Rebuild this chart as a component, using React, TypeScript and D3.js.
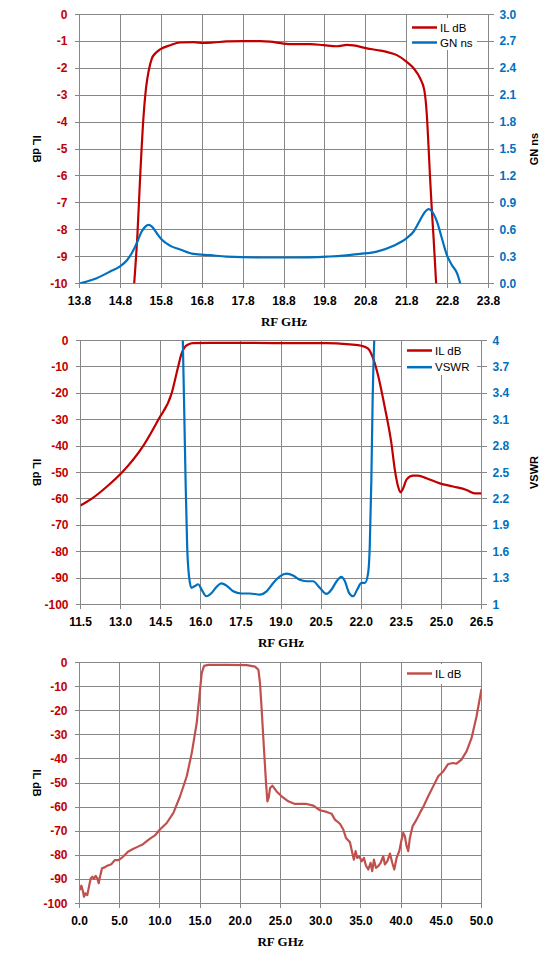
import { useEffect, useRef } from "react";
import * as d3 from "d3";

const RED = "#c00000";
const BLUE = "#0070c0";
const ROSE = "#c0504d";
const GRID = "#878787";

// --- top panel: passband IL and group delay ---
const pbFreq = [15.137, 15.218, 15.283, 15.365, 15.43, 15.487, 15.57, 15.65, 15.77, 16.02, 16.26, 16.59, 16.83, 17.08, 17.4, 17.81, 18.22, 18.46, 18.79, 19.03, 19.44, 19.77, 20.09, 20.34, 20.5, 20.83, 21.07, 21.31, 21.56, 21.8, 21.97, 22.13, 22.23, 22.29, 22.33, 22.37, 22.41, 22.46, 22.52];
const pbIL = [-10.0, -8.13, -6.03, -3.8, -2.69, -2.13, -1.63, -1.45, -1.3, -1.14, -1.04, -1.03, -1.06, -1.04, -1.0, -0.99, -0.99, -1.01, -1.08, -1.1, -1.1, -1.14, -1.18, -1.13, -1.15, -1.26, -1.32, -1.39, -1.51, -1.76, -2.0, -2.38, -2.81, -3.68, -4.79, -6.03, -7.14, -8.38, -10.0];
const gnFreq = [13.8, 13.98, 14.22, 14.55, 14.79, 14.96, 15.08, 15.2, 15.32, 15.41, 15.49, 15.57, 15.69, 15.81, 16.02, 16.26, 16.59, 16.99, 17.4, 18.22, 19.03, 19.85, 20.25, 20.66, 21.07, 21.48, 21.8, 21.97, 22.13, 22.25, 22.33, 22.41, 22.54, 22.66, 22.78, 22.9, 23.03, 23.11];
const gnNs = [0.0, 0.022, 0.059, 0.134, 0.19, 0.26, 0.34, 0.45, 0.58, 0.635, 0.654, 0.635, 0.56, 0.49, 0.42, 0.38, 0.33, 0.316, 0.3, 0.29, 0.29, 0.3, 0.31, 0.33, 0.356, 0.42, 0.505, 0.58, 0.71, 0.8, 0.83, 0.81, 0.69, 0.505, 0.32, 0.21, 0.115, 0.0];
const pbXTicks = [13.8, 14.8, 15.8, 16.8, 17.8, 18.8, 19.8, 20.8, 21.8, 22.8, 23.8];
const pbYTicks = [0, -1, -2, -3, -4, -5, -6, -7, -8, -9, -10];
const gnTicks = [0, 0.3, 0.6, 0.9, 1.2, 1.5, 1.8, 2.1, 2.4, 2.7, 3.0];

// --- middle panel: IL and VSWR ---
const midFreq = [11.5, 11.91, 12.48, 13.05, 13.84, 14.41, 14.91, 15.15, 15.28, 15.4, 15.53, 15.71, 16.34, 17.58, 19.45, 20.7, 21.57, 22.01, 22.26, 22.45, 22.63, 22.88, 23.13, 23.26, 23.38, 23.47, 23.57, 23.7, 23.94, 24.13, 24.44, 24.94, 25.44, 25.94, 26.25, 26.5];
const midIL = [-62.5, -60.0, -55.4, -50.0, -40.0, -30.0, -20.0, -10.0, -5.0, -2.5, -1.5, -1.0, -0.9, -0.9, -1.0, -1.0, -1.5, -2.0, -3.1, -6.9, -13.2, -25.2, -39.0, -49.1, -55.3, -57.5, -56.0, -52.6, -51.2, -51.2, -52.2, -54.1, -55.3, -56.6, -57.9, -57.9];
const vswrFreq = [15.32, 15.37, 15.43, 15.49, 15.56, 15.65, 15.78, 15.9, 16.03, 16.21, 16.4, 16.59, 16.77, 16.96, 17.21, 17.52, 17.83, 18.21, 18.46, 18.71, 18.96, 19.21, 19.45, 19.7, 19.95, 20.2, 20.45, 20.7, 20.89, 21.08, 21.26, 21.39, 21.55, 21.7, 21.85, 22.01, 22.14, 22.26, 22.32, 22.38, 22.43, 22.5];
const vswr = [4.11, 3.36, 2.42, 1.66, 1.32, 1.19, 1.21, 1.23, 1.17, 1.094, 1.13, 1.2, 1.24, 1.215, 1.15, 1.125, 1.125, 1.113, 1.15, 1.245, 1.32, 1.35, 1.33, 1.28, 1.264, 1.264, 1.19, 1.12, 1.17, 1.264, 1.313, 1.264, 1.13, 1.094, 1.17, 1.245, 1.245, 1.36, 1.66, 2.42, 3.36, 4.11];
const midXTicks = [11.5, 13.0, 14.5, 16.0, 17.5, 19.0, 20.5, 22.0, 23.5, 25.0, 26.5];
const dbTicks = [0, -10, -20, -30, -40, -50, -60, -70, -80, -90, -100];
const vswrTicks = [1, 1.3, 1.6, 1.9, 2.2, 2.5, 2.8, 3.1, 3.4, 3.7, 4];

// --- bottom panel: wideband IL ---
const wideFreq = [0.02, 0.23, 0.44, 0.56, 0.72, 0.97, 1.18, 1.39, 1.6, 1.8, 2.01, 2.22, 2.39, 2.55, 2.8, 3.13, 3.46, 3.96, 4.38, 4.88, 5.41, 6.03, 6.65, 7.28, 7.9, 8.73, 9.43, 10.0, 10.85, 11.68, 12.51, 13.34, 13.96, 14.58, 14.91, 15.2, 15.49, 16.03, 18.31, 20.8, 21.83, 22.25, 22.45, 22.66, 22.95, 23.2, 23.37, 23.53, 23.7, 23.99, 24.52, 25.14, 25.97, 26.8, 28.25, 29.08, 29.91, 30.74, 31.36, 31.77, 32.39, 32.81, 33.14, 33.64, 33.93, 34.13, 34.34, 34.55, 34.8, 35.09, 35.38, 35.63, 35.92, 36.2, 36.41, 36.62, 36.87, 37.16, 37.45, 37.78, 37.99, 38.28, 38.61, 38.9, 39.15, 39.44, 39.77, 40.06, 40.27, 40.47, 40.68, 40.89, 41.09, 41.42, 41.92, 42.34, 42.83, 43.37, 43.99, 44.62, 45.24, 45.86, 46.48, 46.89, 47.51, 48.14, 48.76, 49.38, 50.0];
const wideIL = [-94.4, -92.6, -95.1, -97.2, -95.8, -96.5, -93.0, -89.6, -88.9, -89.8, -88.5, -89.6, -91.6, -88.9, -85.4, -85.0, -84.3, -83.7, -82.0, -82.0, -80.6, -78.5, -77.4, -76.4, -75.4, -73.2, -71.6, -69.3, -66.6, -62.4, -55.5, -47.2, -37.6, -25.1, -14.1, -4.4, -1.4, -1.0, -1.0, -1.1, -1.7, -3.0, -8.6, -19.6, -36.2, -50.0, -57.6, -56.2, -52.1, -51.1, -53.5, -55.5, -57.6, -58.7, -58.7, -59.4, -61.3, -62.0, -62.8, -65.2, -66.9, -69.3, -72.8, -74.6, -79.0, -81.8, -78.3, -81.1, -80.4, -82.5, -81.1, -84.3, -85.9, -83.1, -86.6, -81.8, -85.2, -84.5, -83.1, -80.4, -83.8, -82.5, -79.3, -83.1, -85.9, -81.1, -78.3, -73.5, -70.7, -72.1, -76.2, -78.3, -72.8, -68.0, -65.2, -62.4, -59.4, -55.5, -51.4, -47.2, -45.2, -42.1, -41.7, -42.0, -40.3, -36.9, -31.4, -22.4, -11.0];
const wideXTicks = [0, 5, 10, 15, 20, 25, 30, 35, 40, 45, 50];

const TICK_FONT = "'Liberation Sans', Arial, sans-serif";
const TITLE_FONT = "'Liberation Serif', 'Times New Roman', serif";

type Series = { x: number[]; y: number[]; color: string; right?: boolean; smooth?: boolean };
type Axis = { domain: [number, number]; ticks: number[]; fmt: (v: number) => string; title: string; color: string };
type Panel = {
  id: string;
  left: number; top: number; right: number; bottom: number;
  xDomain: [number, number]; xTicks: number[]; xFmt: (v: number) => string;
  yLeft: Axis; yRight?: Axis;
  series: Series[];
  legend: { label: string; color: string }[];
  legendBox: [number, number, number, number];
  legendRow: number;
};

function drawPanel(svg: d3.Selection<SVGSVGElement, unknown, null, undefined>, p: Panel) {
  const x = d3.scaleLinear().domain(p.xDomain).range([p.left, p.right]);
  const yL = d3.scaleLinear().domain(p.yLeft.domain).range([p.bottom, p.top]);
  const yR = p.yRight ? d3.scaleLinear().domain(p.yRight.domain).range([p.bottom, p.top]) : yL;
  const g = svg.append("g");

  g.append("clipPath").attr("id", p.id).append("rect")
    .attr("x", p.left).attr("y", p.top).attr("width", p.right - p.left).attr("height", p.bottom - p.top);

  // grid
  p.xTicks.forEach((t) => {
    g.append("line").attr("x1", x(t)).attr("x2", x(t)).attr("y1", p.top).attr("y2", p.bottom + 4)
      .attr("stroke", GRID).attr("shape-rendering", "crispEdges");
  });
  p.yLeft.ticks.forEach((t) => {
    g.append("line").attr("x1", p.left - 5).attr("x2", p.right).attr("y1", yL(t)).attr("y2", yL(t))
      .attr("stroke", GRID).attr("shape-rendering", "crispEdges");
  });
  if (p.yRight) {
    p.yRight.ticks.forEach((t) => {
      g.append("line").attr("x1", p.right).attr("x2", p.right + 5).attr("y1", yR(t)).attr("y2", yR(t))
        .attr("stroke", GRID).attr("shape-rendering", "crispEdges");
    });
  }

  // tick labels
  const lbl = (sel: d3.Selection<SVGTextElement, unknown, null, undefined>) =>
    sel.attr("font-family", TICK_FONT).attr("font-weight", "bold").attr("font-size", 12);
  p.xTicks.forEach((t) => {
    lbl(g.append("text")).attr("x", x(t)).attr("y", p.bottom + 17).attr("text-anchor", "middle")
      .attr("dominant-baseline", "central").attr("fill", "#000").text(p.xFmt(t));
  });
  p.yLeft.ticks.forEach((t) => {
    lbl(g.append("text")).attr("x", p.left - 12).attr("y", yL(t)).attr("text-anchor", "end")
      .attr("dominant-baseline", "central").attr("fill", p.yLeft.color).text(p.yLeft.fmt(t));
  });
  if (p.yRight) {
    const ar = p.yRight;
    ar.ticks.forEach((t) => {
      lbl(g.append("text")).attr("x", p.right + 11).attr("y", yR(t)).attr("text-anchor", "start")
        .attr("dominant-baseline", "central").attr("fill", ar.color).text(ar.fmt(t));
    });
  }

  // axis titles
  const midY = (p.top + p.bottom) / 2;
  g.append("text").attr("transform", `translate(37,${midY}) rotate(90)`).attr("text-anchor", "middle")
    .attr("dominant-baseline", "central").attr("font-family", TICK_FONT).attr("font-weight", "bold")
    .attr("font-size", 11).text(p.yLeft.title);
  if (p.yRight) {
    g.append("text").attr("transform", `translate(534,${midY}) rotate(-90)`).attr("text-anchor", "middle")
      .attr("dominant-baseline", "central").attr("font-family", TICK_FONT).attr("font-weight", "bold")
      .attr("font-size", 11).text(p.yRight.title);
  }
  g.append("text").attr("x", (p.left + p.right) / 2).attr("y", p.bottom + 38).attr("text-anchor", "middle")
    .attr("dominant-baseline", "central").attr("font-family", TITLE_FONT).attr("font-weight", "bold")
    .attr("font-size", 13).text("RF GHz");

  // series
  p.series.forEach((s) => {
    const ys = s.right ? yR : yL;
    const line = d3.line<number>()
      .x((_, i) => x(s.x[i]))
      .y((v) => ys(v))
      .curve(s.smooth ? d3.curveMonotoneX : d3.curveLinear);
    g.append("path").attr("d", line(s.y)).attr("fill", "none").attr("stroke", s.color)
      .attr("stroke-width", 2.2).attr("stroke-linejoin", "round").attr("clip-path", `url(#${p.id})`);
  });

  // legend
  const [bx, by, bw, bh] = p.legendBox;
  g.append("rect").attr("x", bx).attr("y", by).attr("width", bw).attr("height", bh).attr("fill", "#fff");
  p.legend.forEach((l, i) => {
    const ly = by + 9.5 + i * p.legendRow;
    g.append("line").attr("x1", bx + 5).attr("x2", bx + 30).attr("y1", ly).attr("y2", ly)
      .attr("stroke", l.color).attr("stroke-width", 2.5);
    g.append("text").attr("x", bx + 33).attr("y", ly).attr("dominant-baseline", "central")
      .attr("font-family", TICK_FONT).attr("font-size", 11.5).attr("fill", "#000").text(l.label);
  });
}

export default function App() {
  const svgRef = useRef<SVGSVGElement>(null);

  useEffect(() => {
    if (!svgRef.current) return;
    const svg = d3.select(svgRef.current);
    svg.selectAll("*").remove();

    const f1 = d3.format(".1f");
    const plain = (v: number) => String(v);

    drawPanel(svg, {
      id: "clipTop",
      left: 79.5, top: 14.5, right: 488.5, bottom: 283.5,
      xDomain: [13.8, 23.8], xTicks: pbXTicks, xFmt: f1,
      yLeft: { domain: [-10, 0], ticks: pbYTicks, fmt: plain, title: "IL dB", color: RED },
      yRight: { domain: [0, 3], ticks: gnTicks, fmt: f1, title: "GN ns", color: BLUE },
      series: [
        { x: pbFreq, y: pbIL, color: RED, smooth: true },
        { x: gnFreq, y: gnNs, color: BLUE, right: true, smooth: true },
      ],
      legend: [{ label: "IL dB", color: RED }, { label: "GN ns", color: BLUE }],
      legendBox: [407, 18, 70, 32],
      legendRow: 15,
    });

    drawPanel(svg, {
      id: "clipMid",
      left: 80.5, top: 340.5, right: 481.5, bottom: 604.5,
      xDomain: [11.5, 26.5], xTicks: midXTicks, xFmt: f1,
      yLeft: { domain: [-100, 0], ticks: dbTicks, fmt: plain, title: "IL dB", color: RED },
      yRight: { domain: [1, 4], ticks: vswrTicks, fmt: plain, title: "VSWR", color: BLUE },
      series: [
        { x: midFreq, y: midIL, color: RED, smooth: true },
        { x: vswrFreq, y: vswr, color: BLUE, right: true, smooth: true },
      ],
      legend: [{ label: "IL dB", color: RED }, { label: "VSWR", color: BLUE }],
      legendBox: [402, 341, 75, 34],
      legendRow: 16.7,
    });

    drawPanel(svg, {
      id: "clipBot",
      left: 79.5, top: 662.5, right: 481.5, bottom: 903.5,
      xDomain: [0, 50], xTicks: wideXTicks, xFmt: f1,
      yLeft: { domain: [-100, 0], ticks: dbTicks, fmt: plain, title: "IL dB", color: RED },
      series: [{ x: wideFreq, y: wideIL, color: ROSE }],
      legend: [{ label: "IL dB", color: ROSE }],
      legendBox: [402, 664, 76, 20],
      legendRow: 16,
    });
  }, []);

  return (
    <div style={{ position: "absolute", left: 0, top: 0 }}>
      <svg ref={svgRef} width={558} height={966} style={{ display: "block", background: "#fff" }} />
    </div>
  );
}
